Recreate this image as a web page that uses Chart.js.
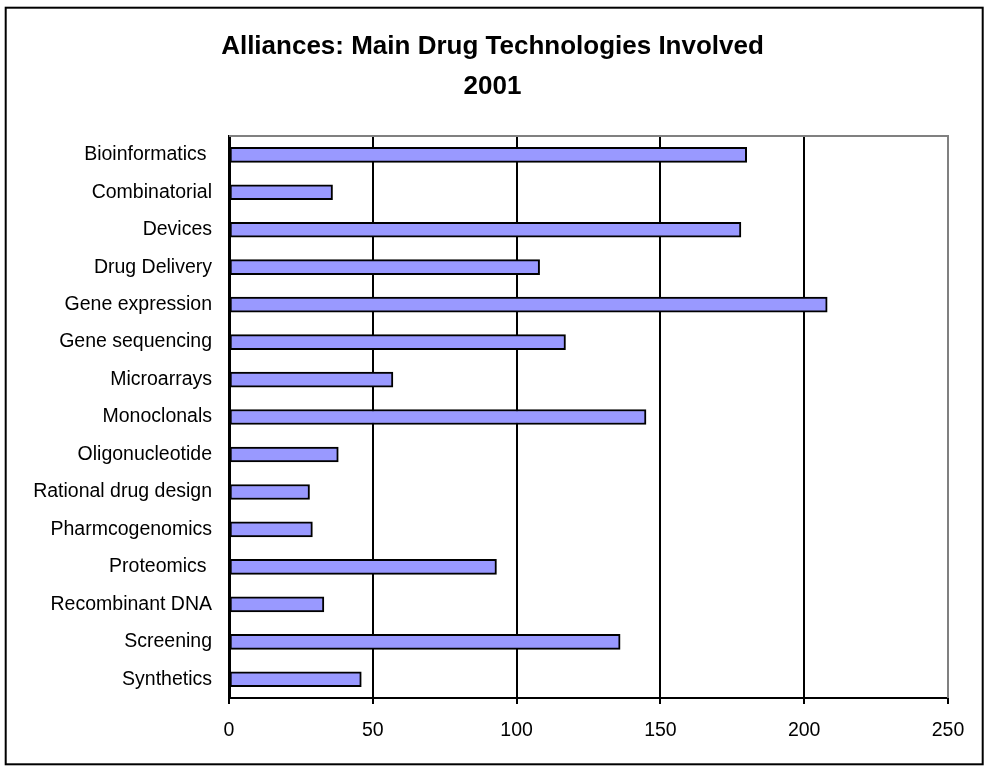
<!DOCTYPE html>
<html lang="en">
<head>
    <meta charset="UTF-8">
    <title>Alliances: Main Drug Technologies Involved 2001</title>
    <script src="https://cdn.jsdelivr.net/npm/chart.js"></script>
    <style>
        body {
            margin: 0;
            background: #fff;
        }
        .chart-container {
            position: relative;
            width: 985px;
            height: 766px;
        }
    </style>
</head>
<body>

    <div class="chart-container">
        <canvas id="allianceChart"></canvas>
    </div>

    <script>
        // data
        const technologies = [
            "Bioinformatics ", "Combinatorial", "Devices", "Drug Delivery",
            "Gene expression", "Gene sequencing", "Microarrays", "Monoclonals",
            "Oligonucleotide", "Rational drug design", "Pharmcogenomics",
            "Proteomics ", "Recombinant DNA", "Screening", "Synthetics"
        ];
        const allianceCounts = [180, 36, 178, 108, 208, 117, 57, 145, 38, 28, 29, 93, 33, 136, 46];
        const titleLines = ["Alliances: Main Drug Technologies Involved", "2001"];
        const xTicks = [0, 50, 100, 150, 200, 250];

        const fontFamily = "'Liberation Sans', Arial, sans-serif";

        // outer frame + grey top/right edge of the plot area
        const framePlugin = {
            id: "frame",
            beforeDraw(chart) {
                const ctx = chart.ctx;
                ctx.save();
                ctx.fillStyle = "#fff";
                ctx.fillRect(0, 0, chart.width, chart.height);
                ctx.strokeStyle = "#000";
                ctx.lineWidth = 2;
                ctx.strokeRect(5.7, 7.7, 977, 756.6);
                ctx.restore();
            },
            beforeDatasetsDraw(chart) {
                const { ctx, chartArea } = chart;
                ctx.save();
                ctx.strokeStyle = "#808080";
                ctx.lineWidth = 2;
                ctx.beginPath();
                ctx.moveTo(chartArea.left, chartArea.top);
                ctx.lineTo(chartArea.right, chartArea.top);
                ctx.lineTo(chartArea.right, chartArea.bottom);
                ctx.stroke();
                ctx.restore();
            }
        };

        new Chart(document.getElementById("allianceChart"), {
            type: "bar",
            data: {
                labels: technologies,
                datasets: [{
                    data: allianceCounts,
                    backgroundColor: "#9999FF",
                    borderColor: "#000",
                    borderWidth: 2,
                    borderSkipped: false,
                    barThickness: 15
                }]
            },
            options: {
                indexAxis: "y",
                responsive: true,
                maintainAspectRatio: false,
                animation: false,
                layout: {
                    padding: 0
                },
                scales: {
                    x: {
                        min: 0,
                        max: 250,
                        afterBuildTicks: axis => {
                            axis.ticks = xTicks.map(v => ({ value: v }));
                        },
                        afterFit: axis => { axis.height = 68; },
                        grid: {
                            color: c => (c.tick && c.tick.value === 250 ? "#808080" : "#000"),
                            lineWidth: 2,
                            tickColor: "#000",
                            tickLength: 6
                        },
                        border: { color: "#000", width: 2 },
                        ticks: {
                            color: "#000",
                            padding: 15,
                            maxRotation: 0,
                            font: { family: fontFamily, size: 19.5 }
                        }
                    },
                    y: {
                        afterFit: axis => { axis.width = 229; },
                        grid: { display: false, drawTicks: false },
                        border: { color: "#000", width: 3 },
                        ticks: {
                            color: "#000",
                            padding: 17,
                            autoSkip: false,
                            font: { family: fontFamily, size: 19.5 }
                        }
                    },
                    // empty spacer on the right so the title stays centred on the whole frame
                    spacer: {
                        type: "linear",
                        position: "right",
                        afterFit: axis => { axis.width = 37; },
                        grid: { display: false, drawTicks: false },
                        border: { display: false },
                        ticks: { display: false }
                    }
                },
                plugins: {
                    legend: { display: false },
                    tooltip: { enabled: false },
                    title: {
                        display: true,
                        text: titleLines,
                        color: "#000",
                        font: { family: fontFamily, size: 26, weight: "bold", lineHeight: 1.54 },
                        padding: { top: 27, bottom: 29 }
                    }
                }
            },
            plugins: [framePlugin]
        });
    </script>

</body>
</html>
